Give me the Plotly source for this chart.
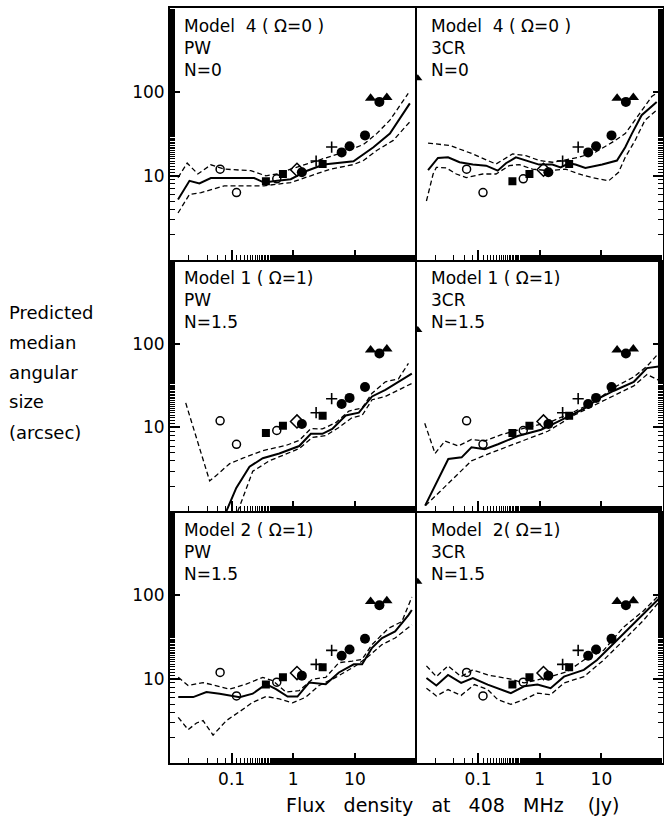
import plotly.graph_objects as go
from plotly.subplots import make_subplots

# ---------------- observed points (same in every panel) ----------------
ocirc_x = [0.065, 0.12, 0.54]
ocirc_y = [12.0, 6.3, 9.2]
fsq_x = [0.36, 0.68, 3.0]
fsq_y = [8.6, 10.5, 13.8]
odiam_x = [1.15]
odiam_y = [11.8]
fcirc_x = [1.38, 6.1, 8.2, 14.6, 25.0]
fcirc_y = [11.0, 19.0, 22.5, 30.3, 76.0]
plus_x = [2.35, 4.2]
plus_y = [15.0, 22.0]
tri_x = [18.0, 33.0]
tri_y = [84.0, 86.0]
# extra point shown at the left edge of the 3CR panels
edge_tri_x = [0.0105]
edge_tri_y = [145.0]

# ---------------- model curves ----------------
# Panel 1: Model 4, PW
p1_med_x = [0.0135, 0.0207, 0.030, 0.046, 0.232, 0.336, 0.55, 0.91, 1.68, 3.13, 9.5, 13.8, 20, 37, 78]
p1_med_y = [5.2, 8.7, 8.1, 9.4, 9.4, 8.3, 8.7, 9.1, 11.5, 13.6, 14.9, 18.2, 21.9, 31.8, 73]
p1_hi_x = [0.0135, 0.019, 0.0283, 0.046, 0.076, 0.205, 0.358, 0.552, 0.906, 2.44, 6.57, 13.8, 22.6, 37, 73.4]
p1_hi_y = [9.5, 14.2, 10.5, 13.5, 12.0, 11.5, 10.0, 10.5, 12.0, 15.2, 19.1, 23.6, 31.8, 46, 96]
p1_lo_x = [0.0135, 0.0207, 0.032, 0.076, 0.205, 0.336, 0.906, 1.9, 4.0, 9.5, 13.8, 22.6, 42, 78]
p1_lo_y = [3.6, 6.0, 6.3, 7.6, 7.6, 7.6, 8.3, 10.0, 12.0, 13.6, 15.2, 20, 26.4, 44]

# Panel 2: Model 4, 3CR
p2_med_x = [0.0154, 0.0223, 0.0325, 0.05, 0.082, 0.135, 0.208, 0.283, 0.41, 0.594, 0.975, 1.6, 2.18,
            2.97, 3.8, 5.5, 10.3, 17.9, 24.4, 31.3, 45, 79]
p2_med_y = [11.7, 16.3, 16.6, 14.5, 13.6, 13.2, 11.5, 14.1, 16.6, 15.2, 13.6, 13.6, 12.6,
            14.1, 13.6, 12.4, 13.6, 15.2, 21.9, 31.8, 52.8, 76]
p2_hi_x = [0.0154, 0.0345, 0.082, 0.195, 0.362, 0.594, 0.975, 1.6, 2.63, 4.3, 8.0, 14.9, 24.4, 40, 65.6, 84]
p2_hi_y = [24.5, 23, 18.2, 13.8, 18.2, 17.4, 15.2, 14.5, 15.5, 16.6, 19.1, 25, 31.8, 52.8, 88, 100]
p2_lo_x = [0.0145, 0.0186, 0.021, 0.0305, 0.0442, 0.064, 0.119, 0.195, 0.32, 0.464, 0.76, 1.41, 2.63,
           4.3, 7.1, 13.1, 19, 24.4, 35.3, 51, 79]
p2_lo_y = [5.0, 10.5, 12.6, 12.4, 10.5, 9.5, 10.5, 10.5, 13.2, 13.6, 12.0, 11.5, 12.0,
           10.5, 9.5, 8.7, 11.0, 16.6, 26.4, 46, 60.7]

# Panel 3: Model 1, PW
p3_med_x = [0.082, 0.119, 0.195, 0.32, 0.594, 1.25, 1.93, 2.97, 4.3, 7.1, 11.6, 14.9, 19, 31.3, 51, 84]
p3_med_y = [1.0, 1.9, 3.4, 4.3, 4.9, 6.0, 8.4, 8.4, 9.6, 13.9, 15, 18.7, 23.4, 28, 35, 43.9]
p3_hi_x = [0.018, 0.044, 0.057, 0.093, 0.152, 0.32, 0.76, 1.25, 1.93, 2.97, 4.9, 8.0, 13.1, 19, 31.3, 51, 74]
p3_hi_y = [19.6, 2.3, 2.7, 3.7, 4.3, 5.3, 6.1, 7.0, 9.7, 9.6, 11.4, 15.7, 17.1, 25.6, 35, 38, 58]
p3_lo_x = [0.126, 0.22, 0.41, 1.25, 2.05, 3.37, 5.5, 9.06, 13.1, 19, 31.3, 51, 84]
p3_lo_y = [1.0, 3.0, 4.0, 5.6, 7.6, 8.0, 10, 13.1, 13.9, 21.4, 23.4, 28, 33.5]

# Panel 4: Model 1, 3CR
p4_med_x = [0.0138, 0.02, 0.0328, 0.054, 0.078, 0.128, 0.21, 0.44, 1.05, 1.73, 3.2, 5.25, 9.75, 16, 33.6, 55, 90.6]
p4_med_y = [1.17, 2.0, 4.2, 4.4, 5.8, 5.5, 6.3, 7.9, 9.4, 11.2, 14, 16.8, 22.9, 27.4, 35, 51, 53.6]
p4_hi_x = [0.0136, 0.02, 0.029, 0.0475, 0.078, 0.128, 0.238, 0.566, 1.52, 3.6, 7.6, 16, 33.6, 55, 80]
p4_hi_y = [11.2, 4.9, 6.9, 6.0, 7.2, 6.9, 8.2, 9.8, 11.7, 15.4, 20, 30, 40, 53.6, 73]
p4_lo_x = [0.014, 0.037, 0.078, 0.164, 0.44, 1.35, 3.6, 7.6, 16, 33.6, 55, 90.6]
p4_lo_y = [1.17, 2.35, 4.0, 5.0, 6.6, 9.0, 14, 18.4, 24, 31.3, 42.8, 35.8]

# Panel 5: Model 2, PW
p5_med_x = [0.0136, 0.0238, 0.039, 0.064, 0.135, 0.22, 0.363, 0.525, 0.81, 1.17, 1.81, 3.37, 5.5,
            9.6, 13.1, 19, 27.6, 45, 74, 84]
p5_med_y = [6.1, 6.1, 7.0, 6.7, 6.1, 6.7, 8.7, 7.6, 6.2, 6.2, 9.1, 8.7, 12,
            15, 15, 23.6, 30.9, 37, 58, 66.7]
p5_hi_x = [0.0136, 0.0197, 0.0344, 0.0565, 0.093, 0.172, 0.32, 0.464, 0.76, 1.25, 2.05, 3.37, 5.5,
           9.06, 13.1, 19, 35.3, 58, 84]
p5_hi_y = [10.5, 8.4, 9.1, 8.4, 7.6, 8.7, 10.5, 9.6, 7.0, 7.3, 10, 10.5, 15.7,
           16.4, 17.2, 25.8, 40.5, 48.6, 95]
p5_lo_x = [0.0136, 0.0197, 0.027, 0.0344, 0.05, 0.082, 0.135, 0.22, 0.363, 0.594, 0.975, 1.6, 2.63,
           4.9, 10.3, 16.8, 27.6, 45, 84]
p5_lo_y = [3.5, 2.5, 3.0, 3.2, 2.15, 3.2, 4.1, 5.3, 6.2, 5.8, 5.2, 6.1, 8.4,
           10.5, 14.4, 18.8, 25.8, 30.9, 44.4]

# Panel 6: Model 2, 3CR
p6_med_x = [0.0145, 0.021, 0.0325, 0.053, 0.082, 0.143, 0.34, 0.558, 0.918, 1.5, 2.47, 5.2, 8.5, 14, 22.9, 48, 89.5]
p6_med_y = [10.3, 8.4, 11.2, 9.0, 10.3, 8.6, 6.8, 8.2, 8.6, 7.8, 10.7, 12.9, 16.9, 24.2, 34.7, 59.7, 94]
p6_hi_x = [0.0145, 0.021, 0.0325, 0.053, 0.082, 0.143, 0.34, 0.558, 0.918, 1.5, 2.8, 5.2, 10.9, 22.9, 48, 89.5]
p6_hi_y = [14.4, 10.7, 14.4, 10.7, 12.9, 11.2, 10, 9, 9.8, 10.7, 12.3, 16.9, 22.1, 41.7, 65, 103]
p6_lo_x = [0.0145, 0.021, 0.0325, 0.053, 0.087, 0.143, 0.208, 0.34, 0.558, 0.918, 1.5, 2.47, 5.2,
           10.9, 22.9, 48, 89.5]
p6_lo_y = [7.8, 6.3, 7.5, 6.4, 8.6, 7.5, 5.7, 5.0, 5.7, 6.8, 6.5, 9.0, 10.7,
           16.9, 29, 50, 86]

panel_titles = [
    "Model  4 ( Ω=0 )<br>PW<br>N=0",
    "Model  4 ( Ω=0 )<br>3CR<br>N=0",
    "Model 1 ( Ω=1)<br>PW<br>N=1.5",
    "Model 1 ( Ω=1)<br>3CR<br>N=1.5",
    "Model 2 ( Ω=1)<br>PW<br>N=1.5",
    "Model  2( Ω=1)<br>3CR<br>N=1.5",
]
x_tick_vals = [0.1, 1, 10]
x_tick_text = ["0.1", "1", "10"]
y_tick_vals = [10, 100]
y_tick_text = ["10", "100"]
y_axis_words = ["Predicted", "median", "angular", "size", "(arcsec)"]
x_title = "Flux   density   at   408   MHz    (Jy)"

panels = [
    (1, 1, p1_med_x, p1_med_y, p1_hi_x, p1_hi_y, p1_lo_x, p1_lo_y, False),
    (1, 2, p2_med_x, p2_med_y, p2_hi_x, p2_hi_y, p2_lo_x, p2_lo_y, True),
    (2, 1, p3_med_x, p3_med_y, p3_hi_x, p3_hi_y, p3_lo_x, p3_lo_y, False),
    (2, 2, p4_med_x, p4_med_y, p4_hi_x, p4_hi_y, p4_lo_x, p4_lo_y, True),
    (3, 1, p5_med_x, p5_med_y, p5_hi_x, p5_hi_y, p5_lo_x, p5_lo_y, False),
    (3, 2, p6_med_x, p6_med_y, p6_hi_x, p6_hi_y, p6_lo_x, p6_lo_y, True),
]

FONT = "DejaVu Sans"
fig = make_subplots(rows=3, cols=2, horizontal_spacing=0, vertical_spacing=0)

dash_style = "5px,3px"
for (r, c, mx, my, hx, hy, lx, ly, is3cr) in panels:
    fig.add_trace(go.Scatter(x=hx, y=hy, mode="lines",
                             line=dict(color="black", width=1.3, dash=dash_style)), row=r, col=c)
    fig.add_trace(go.Scatter(x=lx, y=ly, mode="lines",
                             line=dict(color="black", width=1.3, dash=dash_style)), row=r, col=c)
    fig.add_trace(go.Scatter(x=mx, y=my, mode="lines",
                             line=dict(color="black", width=2)), row=r, col=c)
    fig.add_trace(go.Scatter(x=ocirc_x, y=ocirc_y, mode="markers",
                             marker=dict(symbol="circle-open", size=8, color="black",
                                         line=dict(width=1.5, color="black"))), row=r, col=c)
    fig.add_trace(go.Scatter(x=fsq_x, y=fsq_y, mode="markers",
                             marker=dict(symbol="square", size=8, color="black")), row=r, col=c)
    fig.add_trace(go.Scatter(x=odiam_x, y=odiam_y, mode="markers",
                             marker=dict(symbol="diamond-open", size=10, color="black",
                                         line=dict(width=1.5, color="black"))), row=r, col=c)
    fig.add_trace(go.Scatter(x=fcirc_x, y=fcirc_y, mode="markers",
                             marker=dict(symbol="circle", size=10, color="black")), row=r, col=c)
    fig.add_trace(go.Scatter(x=plus_x, y=plus_y, mode="markers",
                             marker=dict(symbol="cross-thin-open", size=8, color="black",
                                         line=dict(width=1.6, color="black"))), row=r, col=c)
    fig.add_trace(go.Scatter(x=tri_x, y=tri_y, mode="markers",
                             marker=dict(symbol="triangle-up", size=10, color="black")), row=r, col=c)
    if is3cr:
        fig.add_trace(go.Scatter(x=edge_tri_x, y=edge_tri_y, mode="markers",
                                 marker=dict(symbol="triangle-up", size=8, color="black")), row=r, col=c)

    fig.update_xaxes(type="log", range=[-2, 2], row=r, col=c,
                     showline=True, linecolor="black", linewidth=2, mirror=(r == 1),
                     showgrid=False, zeroline=False,
                     tickmode="array", tickvals=x_tick_vals, ticktext=x_tick_text,
                     ticks="inside", ticklen=10, tickwidth=1.5, tickcolor="black",
                     showticklabels=(r == 3),
                     tickfont=dict(family=FONT, size=17, color="black"),
                     minor=dict(ticks="inside", ticklen=5, tickwidth=1, tickcolor="black",
                                showgrid=False))
    fig.update_yaxes(type="log", range=[0, 3], row=r, col=c,
                     showline=True, linecolor="black", linewidth=2, mirror=(c == 2),
                     showgrid=False, zeroline=False,
                     side="left" if c == 1 else "right",
                     tickmode="array", tickvals=y_tick_vals, ticktext=y_tick_text,
                     ticks="inside", ticklen=10, tickwidth=1.5, tickcolor="black",
                     showticklabels=(c == 1),
                     tickfont=dict(family=FONT, size=17, color="black"),
                     minor=dict(ticks="inside", ticklen=5, tickwidth=1, tickcolor="black",
                                showgrid=False))

# panel labels
for i, txt in enumerate(panel_titles):
    axn = "" if i == 0 else str(i + 1)
    fig.add_annotation(text=txt, xref=f"x{axn} domain", yref=f"y{axn} domain",
                       x=0.05, y=0.975, xanchor="left", yanchor="top", align="left",
                       showarrow=False, font=dict(family=FONT, size=17, color="black"))

W, H = 664, 824
ml, mr, mt, mb = 170, 1, 8, 61
pw, ph = W - ml - mr, H - mt - mb


def px_x(xp):
    return (xp - ml) / pw


def px_y(yp):
    return 1 - (yp - mt) / ph


for k, word in enumerate(y_axis_words):
    fig.add_annotation(text=word, xref="paper", yref="paper",
                       x=px_x(7), y=px_y(312 + 30 * k),
                       xanchor="left", yanchor="middle", showarrow=False,
                       font=dict(family=FONT, size=18, color="black"))

fig.add_annotation(text=x_title, xref="paper", yref="paper",
                   x=px_x(452), y=px_y(805),
                   xanchor="center", yanchor="middle", showarrow=False,
                   font=dict(family=FONT, size=19, color="black"))

fig.update_layout(width=W, height=H, showlegend=False,
                  margin=dict(l=ml, r=mr, t=mt, b=mb),
                  paper_bgcolor="white", plot_bgcolor="white",
                  font=dict(family=FONT, color="black"))

fig.write_html("out.html", config={"displayModeBar": False},
               post_script="document.body.style.margin='0px';"
                           "document.body.style.overflow='hidden';")
